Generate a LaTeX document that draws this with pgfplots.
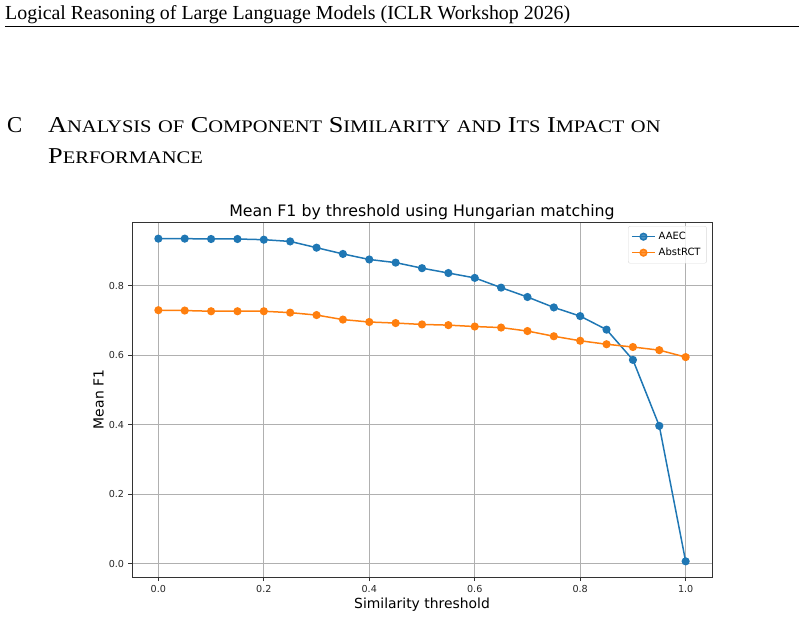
\documentclass[border=0pt]{standalone}
\usepackage{fontspec}
\setmainfont{DejaVu Sans}
\newfontfamily\serif{Liberation Serif}
\usepackage{pgfplots}
\pgfplotsset{compat=1.18}
\usepackage{pgfplotstable}

\definecolor{mplblue}{HTML}{1F77B4}
\definecolor{mplorange}{HTML}{FF7F0E}
\definecolor{gridgray}{HTML}{B0B0B0}
\definecolor{spine}{HTML}{333333}

% mean F1 per similarity threshold
\pgfplotstableread{
thr  aaec  abst
0.00 0.936 0.730
0.05 0.936 0.729
0.10 0.935 0.727
0.15 0.935 0.727
0.20 0.933 0.727
0.25 0.928 0.723
0.30 0.910 0.716
0.35 0.892 0.703
0.40 0.876 0.696
0.45 0.867 0.693
0.50 0.851 0.689
0.55 0.837 0.687
0.60 0.823 0.683
0.65 0.795 0.680
0.70 0.768 0.670
0.75 0.738 0.655
0.80 0.713 0.642
0.85 0.674 0.632
0.90 0.587 0.624
0.95 0.397 0.615
1.00 0.007 0.595
}\scores

% small-caps heading: initial at full size, rest in reduced capitals
\newcommand\sm[1]{{\fontsize{17.7bp}{20bp}\selectfont #1}}
\newcommand\tickfont{\fontsize{9.6bp}{11bp}\selectfont}

\begin{document}
\begin{tikzpicture}
\path[use as bounding box] (0bp,0bp) rectangle (804bp,618bp);

% running header
\node[anchor=base west, inner sep=0, font=\serif\fontsize{19.9bp}{22bp}\selectfont]
  at (5bp,598bp) {Logical Reasoning of Large Language Models (ICLR Workshop 2026)};
\draw[line width=1bp] (5bp,591.3bp) -- (799bp,591.3bp);

% section heading
\begingroup
\serif\fontsize{22.7bp}{26bp}\selectfont
\node[anchor=base west, inner sep=0] at (7bp,485.7bp) {C};
\node[anchor=base west, inner sep=0, xscale=1.157] at (48bp,485.7bp)
  {A\sm{NALYSIS} \sm{OF} C\sm{OMPONENT} S\sm{IMILARITY} \sm{AND} I\sm{TS} I\sm{MPACT} \sm{ON}};
\node[anchor=base west, inner sep=0, xscale=1.157] at (48bp,454.7bp) {P\sm{ERFORMANCE}};
\endgroup

\begin{axis}[
  at={(132bp,40.5bp)}, anchor=south west,
  scale only axis, width=580bp, height=355bp,
  xmin=-0.05, xmax=1.05, ymin=-0.0395, ymax=0.9825,
  xtick={0,0.2,0.4,0.6,0.8,1.0},
  ytick={0,0.2,0.4,0.6,0.8},
  tick pos=left, tick align=outside,
  major tick length=3.7bp,
  tick style={spine, line width=0.8bp},
  axis line style={spine, line width=1bp},
  grid=major,
  major grid style={gridgray, line width=0.8bp},
  xticklabel={\tickfont\pgfmathprintnumber[fixed, fixed zerofill, precision=1, assume math mode=true]{\tick}},
  yticklabel={\tickfont\pgfmathprintnumber[fixed, fixed zerofill, precision=1, assume math mode=true]{\tick}},
  yticklabel style={inner sep=0pt, xshift=-4bp, text=black!85},
  xticklabel style={inner sep=0pt, yshift=-3.5bp, text=black!85},
  legend style={at={(rel axis cs:0.991,0.990)}, anchor=north east,
    draw=black!15, rounded corners=2bp, fill=white, fill opacity=0.8, text opacity=1,
    font=\fontsize{10bp}{12bp}\selectfont,
    inner xsep=3bp, inner ysep=3bp, row sep=1bp,
    nodes={inner sep=3bp}},
  legend cell align=left,
  legend image code/.code={
    \draw[mark repeat=2, mark phase=2] plot coordinates {(0bp,0bp) (11.5bp,0bp) (23bp,0bp)};},
]
\addplot[mplblue, line width=1.5bp, mark=*, mark size=3.3bp,
  mark options={fill=mplblue, draw=mplblue}] table[x=thr, y=aaec] {\scores};
\addlegendentry{AAEC}
\addplot[mplorange, line width=1.5bp, mark=*, mark size=3.3bp,
  mark options={fill=mplorange, draw=mplorange}] table[x=thr, y=abst] {\scores};
\addlegendentry{AbstRCT}
\end{axis}

% title and axis labels
\node[anchor=base, inner sep=0, font=\fontsize{15.8bp}{18bp}\selectfont] at (422bp,401bp)
  {Mean F1 by threshold using Hungarian matching};
\node[anchor=base, inner sep=0, font=\fontsize{13.9bp}{16bp}\selectfont] at (422bp,9.5bp)
  {Similarity threshold};
\node[anchor=base, inner sep=0, rotate=90, font=\fontsize{13.9bp}{16bp}\selectfont] at (103.5bp,218.5bp)
  {Mean F1};
\end{tikzpicture}
\end{document}
